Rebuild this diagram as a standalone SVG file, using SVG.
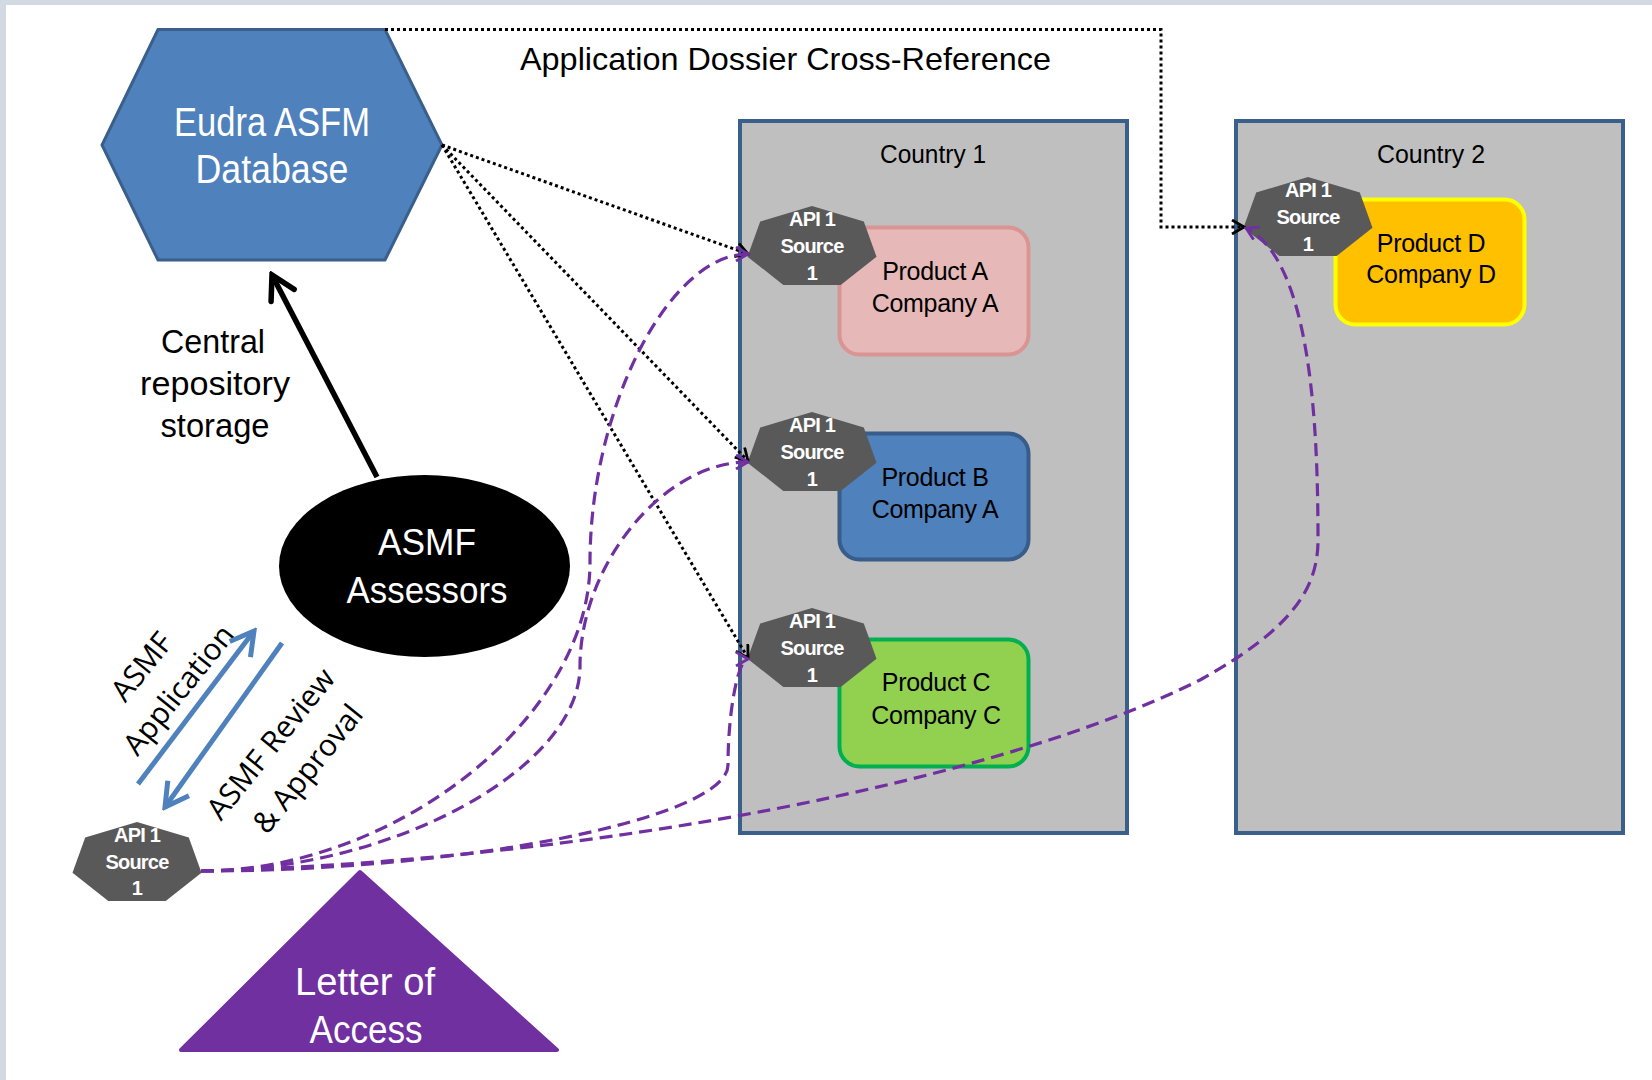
<svg xmlns="http://www.w3.org/2000/svg" width="1652" height="1080" viewBox="0 0 1652 1080">
<defs>
<style>
.t{font-family:"Liberation Sans",Arial,sans-serif}
.wt{fill:#fff;text-anchor:middle}
.bt{fill:#000;text-anchor:middle}
.api{font-family:"Liberation Sans",Arial,sans-serif;font-weight:bold;font-size:20px;fill:#fff;text-anchor:middle;letter-spacing:-0.8px}
.prod{font-family:"Liberation Sans",Arial,sans-serif;font-size:25px;fill:#000;text-anchor:middle;letter-spacing:-0.3px}
.cal{font-family:"Open Sans","Liberation Sans",sans-serif;font-size:30px;fill:#000;text-anchor:middle}
.dot{fill:none;stroke:#000;stroke-width:3;stroke-dasharray:3 3}
.dash{fill:none;stroke:#7030A0;stroke-width:3.2;stroke-dasharray:13 7}
.country{fill:#BFBFBF;stroke:#3A5F8B;stroke-width:4}
.hept{fill:#595959}
</style>
<polygon id="hp" points="0,-41.5 51.8,-25.9 64.5,9.2 28.7,37.4 -28.7,37.4 -64.5,9.2 -51.8,-25.9"/>
<marker id="mk" viewBox="0 0 16 16" refX="14" refY="8" markerWidth="16" markerHeight="16" markerUnits="userSpaceOnUse" orient="auto"><path d="M2,1 L14,8 L2,15" fill="none" stroke="#000" stroke-width="2.8"/></marker>
<marker id="mp" viewBox="0 0 16 16" refX="14" refY="8" markerWidth="16" markerHeight="16" markerUnits="userSpaceOnUse" orient="auto"><path d="M2,1 L14,8 L2,15" fill="none" stroke="#7030A0" stroke-width="2.8"/></marker>
<marker id="mb" viewBox="0 0 32 32" refX="28" refY="16" markerWidth="32" markerHeight="32" markerUnits="userSpaceOnUse" orient="auto"><path d="M5,3 L28,16 L5,29" fill="none" stroke="#000" stroke-width="5.5" stroke-linecap="round"/></marker>
<marker id="mbl" viewBox="0 0 32 32" refX="28" refY="16" markerWidth="32" markerHeight="32" markerUnits="userSpaceOnUse" orient="auto"><path d="M5,3 L28,16 L5,29" fill="none" stroke="#4F81BD" stroke-width="5" stroke-linecap="butt"/></marker>
</defs>

<rect x="0" y="0" width="1652" height="1080" fill="#D3D9E3"/>
<rect x="6" y="5" width="1646" height="1075" fill="#fff"/>

<g id="country1">
<rect class="country" x="740" y="121" width="387" height="712"/>
<text class="t bt" x="933" y="163" font-size="25" textLength="106" lengthAdjust="spacingAndGlyphs">Country 1</text>
</g>
<g id="country2">
<rect class="country" x="1236" y="121" width="387" height="712"/>
<text class="t bt" x="1431" y="163" font-size="25" textLength="108" lengthAdjust="spacingAndGlyphs">Country 2</text>
</g>

<g id="productA">
<rect x="839.5" y="227.5" width="189" height="127" rx="20" fill="#E6B9B8" stroke="#D99594" stroke-width="4"/>
<text class="prod" x="935" y="280">Product A</text>
<text class="prod" x="935" y="312">Company A</text>
</g>
<g id="productB">
<rect x="839.5" y="433.5" width="189" height="126" rx="20" fill="#4F81BD" stroke="#385D8A" stroke-width="4"/>
<text class="prod" x="935" y="486">Product B</text>
<text class="prod" x="935" y="518">Company A</text>
</g>
<g id="productC">
<rect x="839.5" y="639.5" width="189" height="127" rx="20" fill="#92D050" stroke="#00B050" stroke-width="4"/>
<text class="prod" x="936" y="691">Product C</text>
<text class="prod" x="936" y="724">Company C</text>
</g>
<g id="productD">
<rect x="1335.5" y="199.5" width="189" height="125" rx="20" fill="#FFC000" stroke="#FFFF00" stroke-width="4"/>
<text class="prod" x="1431" y="252">Product D</text>
<text class="prod" x="1431" y="283">Company D</text>
</g>

<g id="apiA">
<use href="#hp" class="hept" x="812" y="247.5"/>
<text class="api" x="812" y="226">API 1</text>
<text class="api" x="812" y="253">Source</text>
<text class="api" x="812" y="280">1</text>
</g>
<g id="apiB">
<use href="#hp" class="hept" x="812" y="453.5"/>
<text class="api" x="812" y="432">API 1</text>
<text class="api" x="812" y="459">Source</text>
<text class="api" x="812" y="486">1</text>
</g>
<g id="apiC">
<use href="#hp" class="hept" x="812" y="649.5"/>
<text class="api" x="812" y="628">API 1</text>
<text class="api" x="812" y="655">Source</text>
<text class="api" x="812" y="682">1</text>
</g>
<g id="apiD">
<use href="#hp" class="hept" x="1308" y="218.5"/>
<text class="api" x="1308" y="197">API 1</text>
<text class="api" x="1308" y="224">Source</text>
<text class="api" x="1308" y="251">1</text>
</g>
<g id="apiSource">
<use href="#hp" class="hept" x="137" y="863.5"/>
<text class="api" x="137" y="842">API 1</text>
<text class="api" x="137" y="869">Source</text>
<text class="api" x="137" y="895">1</text>
</g>

<g id="eudra">
<polygon points="158,29.5 385,29.5 442,145 385,260 158,260 102,145" fill="#4F81BD" stroke="#3A5F8B" stroke-width="3"/>
<text class="t wt" x="272" y="136" font-size="40" textLength="196" lengthAdjust="spacingAndGlyphs">Eudra ASFM</text>
<text class="t wt" x="272" y="183" font-size="40" textLength="153" lengthAdjust="spacingAndGlyphs">Database</text>
</g>

<g id="assessors">
<ellipse cx="424.5" cy="566" rx="145.5" ry="91" fill="#000"/>
<text class="t wt" x="427" y="555" font-size="37" textLength="98" lengthAdjust="spacingAndGlyphs">ASMF</text>
<text class="t wt" x="427" y="603" font-size="37" textLength="161" lengthAdjust="spacingAndGlyphs">Assessors</text>
</g>

<g id="letter">
<polygon points="360,872 557,1050 181,1050" fill="#7030A0" stroke="#7030A0" stroke-width="4" stroke-linejoin="round"/>
<text class="t wt" x="365" y="995" font-size="39" textLength="140" lengthAdjust="spacingAndGlyphs">Letter of</text>
<text class="t wt" x="366" y="1043" font-size="39" textLength="113" lengthAdjust="spacingAndGlyphs">Access</text>
</g>

<g id="labels">
<text class="t bt" x="785.5" y="70" font-size="32" textLength="531" lengthAdjust="spacingAndGlyphs">Application Dossier Cross-Reference</text>
<text class="t bt" x="213" y="353" font-size="33" textLength="104" lengthAdjust="spacingAndGlyphs">Central</text>
<text class="t bt" x="215" y="395" font-size="33" textLength="150" lengthAdjust="spacingAndGlyphs">repository</text>
<text class="t bt" x="215" y="437" font-size="33" textLength="109" lengthAdjust="spacingAndGlyphs">storage</text>
<g transform="translate(142,667) rotate(-51)"><text class="cal" x="0" y="10">ASMF</text></g>
<g transform="translate(179,690) rotate(-51)"><text class="cal" x="0" y="10">Application</text></g>
<g transform="translate(271,744) rotate(-51)"><text class="cal" x="0" y="10">ASMF Review</text></g>
<g transform="translate(308,769) rotate(-51)"><text class="cal" x="0" y="10">&amp; Approval</text></g>
</g>

<g id="connectors">
<line x1="377" y1="477" x2="272" y2="275" stroke="#000" stroke-width="5.5" marker-end="url(#mb)"/>
<line x1="138" y1="784" x2="254" y2="631" stroke="#4F81BD" stroke-width="5" marker-end="url(#mbl)"/>
<line x1="282" y1="643" x2="165" y2="807" stroke="#4F81BD" stroke-width="5" marker-end="url(#mbl)"/>
<polyline class="dot" points="385,29.5 1161,29.5 1161,227 1244,227" marker-end="url(#mk)"/>
<line class="dot" x1="442" y1="145" x2="748" y2="254" marker-end="url(#mk)"/>
<line class="dot" x1="442" y1="145" x2="748" y2="461" marker-end="url(#mk)"/>
<line class="dot" x1="442" y1="145" x2="748" y2="658" marker-end="url(#mk)"/>
<path class="dash" d="M201,871 C395.5,871 590,717 590,562.5 C590,408 669,254 748,254" marker-end="url(#mp)"/>
<path class="dash" d="M201,871 C390.5,871 580,769 580,666.5 C580,564 664,462 748,462" marker-end="url(#mp)"/>
<path class="dash" d="M201,871 C464.5,871 728,818 728,765 C728,712 738,659 748,659" marker-end="url(#mp)"/>
<path class="dash" d="M201,871 C600,860 1000,780 1200,680 C1290,630 1318,590 1318,540 C1318,420 1310,260 1246,228" marker-end="url(#mp)"/>
</g>
</svg>
